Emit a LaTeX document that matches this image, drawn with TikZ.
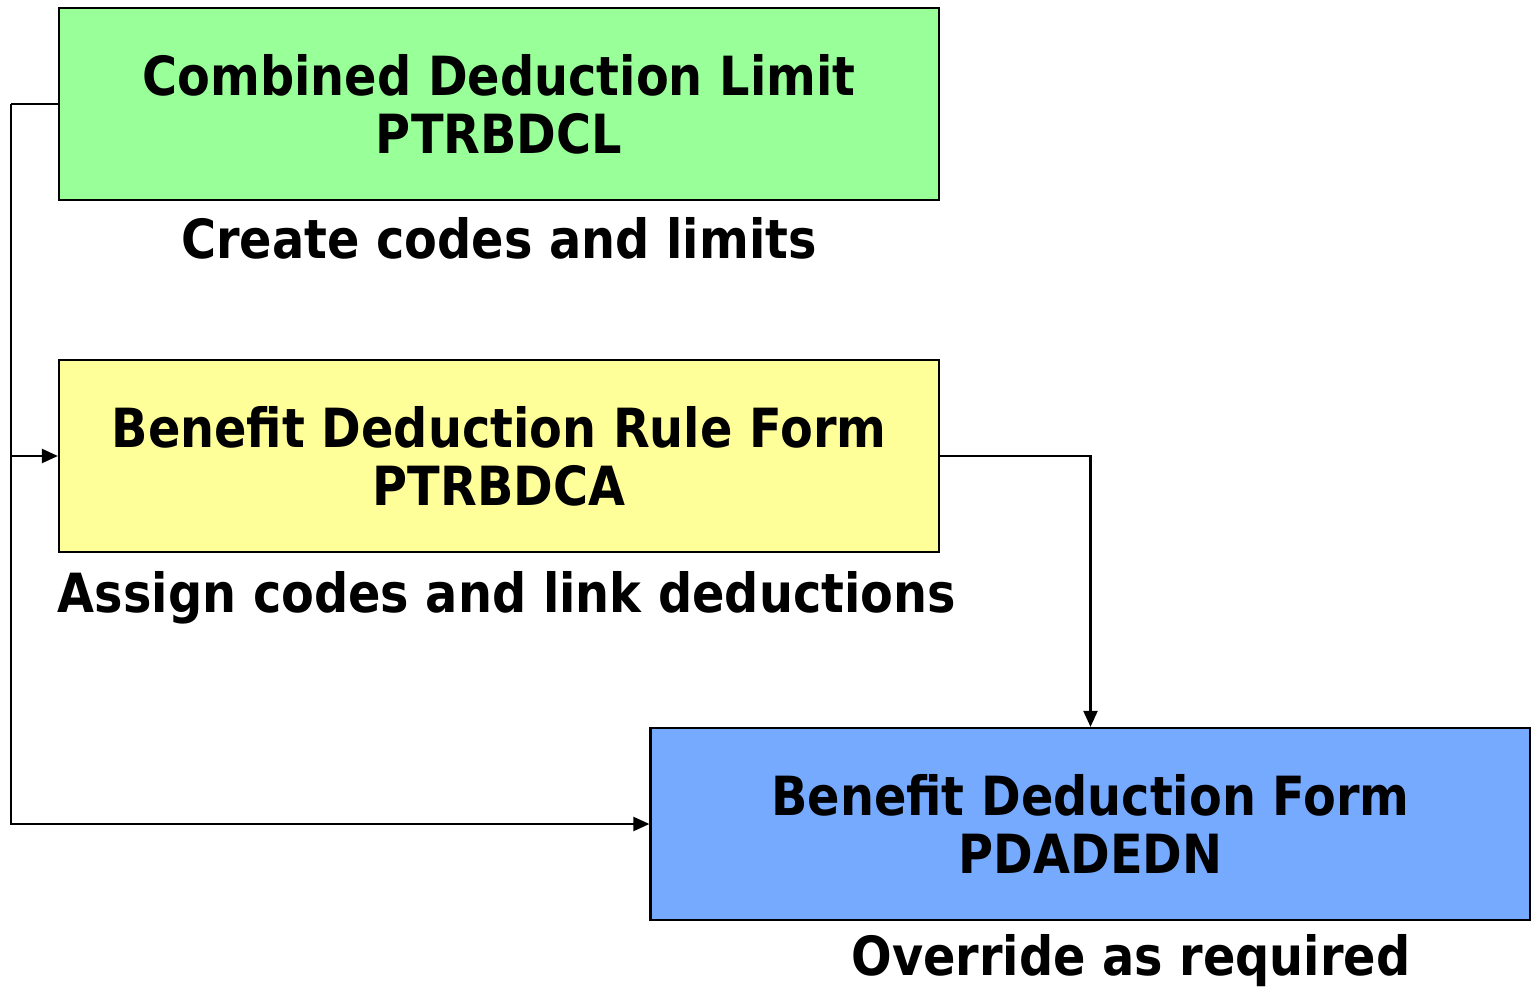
\documentclass[tikz,border=0pt]{standalone}
\usepackage{fontspec}
\setmainfont{DejaVu Sans}[FakeStretch=0.885]
\usetikzlibrary{arrows.meta}
\definecolor{limitgreen}{HTML}{99FF99}
\definecolor{rulyellow}{HTML}{FFFF99}
\definecolor{formblue}{HTML}{75AAFF}
\begin{document}
\begin{tikzpicture}[x=0.5pt,y=-0.5pt,
  formbox/.style={draw=black, line width=1.1pt, minimum width=440pt, minimum height=96pt,
    inner sep=0pt, align=center, font=\fontsize{27}{29}\selectfont\bfseries},
  caption/.style={anchor=base, inner sep=0pt, font=\fontsize{27}{29}\selectfont\bfseries},
  link/.style={draw=black, line width=1.1pt, -{Triangle[length=8pt,width=7pt]}}]
\useasboundingbox (0,0) rectangle (1531,988);
\node[formbox, fill=limitgreen] (cdl) at (499,104) {Combined Deduction Limit\\PTRBDCL};
\node[formbox, fill=rulyellow] (bdr) at (499,456) {Benefit Deduction Rule Form\\PTRBDCA};
\node[formbox, fill=formblue] (bdf) at (1090.5,824) {Benefit Deduction Form\\PDADEDN};
\node[caption] (cap1) at (499,259) {Create codes and limits};
\node[caption] (cap2) at (507,612) {Assign codes and link deductions};
\node[caption] (cap3) at (1131,975) {Override as required};
\coordinate (rail) at (11,104);
\draw[line width=1.1pt] (cdl.west) -- (rail);
\draw[link] (rail) |- (bdr.west);
\draw[link] (rail) |- (bdf.west);
\draw[link] (bdr.east) -| (bdf.north);
\end{tikzpicture}
\end{document}
